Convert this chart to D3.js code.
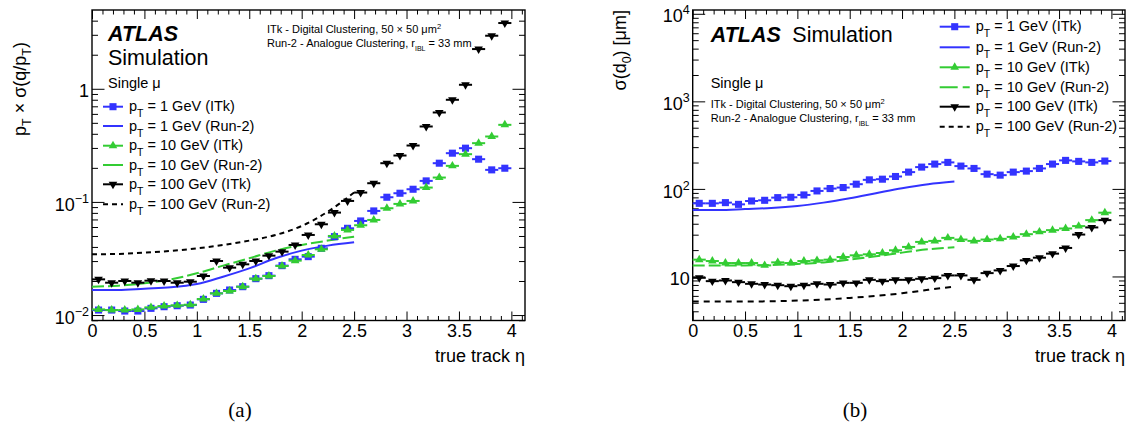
<!DOCTYPE html>
<html>
<head>
<meta charset="utf-8">
<script src="https://cdn.jsdelivr.net/npm/d3@7"></script>
<style>
  body { margin: 0; background: #fff; }
  svg { font-family: "Liberation Sans", Arial, sans-serif; }
</style>
</head>
<body>
<script>
// bin centres (width 0.125) of the ITk histograms
const etaBins = [0.0625, 0.1875, 0.3125, 0.4375, 0.5625, 0.6875, 0.8125, 0.9375,
                 1.0625, 1.1875, 1.3125, 1.4375, 1.5625, 1.6875, 1.8125, 1.9375,
                 2.0625, 2.1875, 2.3125, 2.4375, 2.5625, 2.6875, 2.8125, 2.9375,
                 3.0625, 3.1875, 3.3125, 3.4375, 3.5625, 3.6875, 3.8125, 3.9375];
// sample points of the Run-2 curves
const run2Eta = [0, 0.25, 0.5, 0.75, 1.0, 1.25, 1.5, 1.75, 2.0, 2.25, 2.5];

// (a) pT x sigma(q/pT)
const qpBlueITk  = [0.01107, 0.01107, 0.01085, 0.01085, 0.01146, 0.01185, 0.01209, 0.01226,
                    0.01376, 0.01555, 0.01664, 0.01781, 0.02097, 0.02229, 0.02733, 0.03109,
                    0.03283, 0.0389, 0.04933, 0.05845, 0.0679, 0.08325, 0.110, 0.1193,
                    0.1294, 0.1534, 0.2199, 0.2696, 0.2985, 0.2386, 0.192, 0.1985];
const qpGreenITk = [0.01122, 0.01107, 0.01107, 0.01122, 0.01169, 0.01201, 0.01218, 0.01234,
                    0.01385, 0.01555, 0.01631, 0.01781, 0.02097, 0.02214, 0.02714, 0.03026,
                    0.03396, 0.03812, 0.05001, 0.05652, 0.06217, 0.0693, 0.0879, 0.096,
                    0.102, 0.1339, 0.1642, 0.2083, 0.2642, 0.3305, 0.3786, 0.4801];
const qpBlackITk = [0.02068, 0.01932, 0.02, 0.01932, 0.02013, 0.02, 0.01932, 0.01972,
                    0.02214, 0.03005, 0.02624, 0.02808, 0.03005, 0.0335, 0.03635, 0.04164,
                    0.05105, 0.06345, 0.08048, 0.102, 0.121, 0.1463, 0.2199, 0.2571,
                    0.3151, 0.4642, 0.6174, 0.7993, 1.0849, 2.244, 2.944, 3.812];
const qpBlueRun2  = [0.01664, 0.01664, 0.0171, 0.01757, 0.0188, 0.02184, 0.02588, 0.03173, 0.0371, 0.04108, 0.04396];
const qpGreenRun2 = [0.01781, 0.01818, 0.01906, 0.02068, 0.02337, 0.02733, 0.03173, 0.0371, 0.04164, 0.0455, 0.04933];
const qpBlackRun2 = [0.03443, 0.0347, 0.0356, 0.03684, 0.0389, 0.0416, 0.0455, 0.051, 0.0613, 0.0821, 0.121];

// (b) sigma(d0) [um]
const d0BlueITk  = [68.4, 68.4, 69.7, 66.6, 72.8, 74.1, 79.5, 80.2, 85.3, 94.8, 100.9, 103.6,
                    113.2, 126.9, 129.1, 138.6, 155.5, 177.4, 192.1, 200.8, 182.2, 171.3, 147.4, 143.6,
                    155.5, 159.7, 171.3, 192.1, 211.7, 206.2, 200.8, 208];
const d0GreenITk = [15.55, 15.0, 14.23, 14.23, 14.23, 13.38, 14.48, 14.23, 15.0, 15.27, 15.55, 16.68,
                    17.43, 17.9, 18.54, 19.9, 21.74, 24.8, 25.47, 27.58, 26.4, 25.47, 26.4, 26.9,
                    28.3, 30.4, 32.3, 33.8, 35.3, 37.6, 44.0, 53.5];
const d0BlackITk = [9.65, 8.84, 8.99, 8.61, 8.24, 8.09, 7.95, 7.74, 7.95, 8.24, 8.09, 8.45,
                    8.45, 9.15, 8.84, 9.15, 9.15, 9.40, 9.57, 10.27, 10.27, 9.15, 10.92, 11.72,
                    13.15, 15.27, 16.39, 18.22, 21.17, 30.1, 36.3, 44.0];
const d0BlueRun2  = [57.4, 57.4, 58.9, 60.5, 63.8, 69.7, 78.1, 89.2, 101.8, 113.2, 121.4];
const d0GreenRun2 = [13.38, 13.38, 13.38, 13.5, 13.86, 14.48, 15.55, 16.98, 18.71, 20.43, 21.54];
const d0BlackRun2 = [5.16, 5.16, 5.16, 5.21, 5.30, 5.44, 5.69, 5.99, 6.43, 7.03, 7.67];

const xTicks = [0, 0.5, 1, 1.5, 2, 2.5, 3, 3.5, 4];
const qpYTicks = [0.01, 0.1, 1];
const d0YTicks = [10, 100, 1000, 10000];
const legendLabels = ["1 GeV (ITk)", "1 GeV (Run-2)", "10 GeV (ITk)", "10 GeV (Run-2)", "100 GeV (ITk)", "100 GeV (Run-2)"];

const blue = "#3333ff", green = "#33cc33", black = "#000";
const binHalf = 0.0625;

const svg = d3.select("body").append("svg").attr("width", 1130).attr("height", 430);

// text with sub/superscripts: parts = [[string, "sub"|"sup"|undefined], ...]
function rich(text, parts, small, shift) {
  let off = 0;
  parts.forEach(([s, m]) => {
    const t = text.append("tspan").text(s);
    const want = m === "sub" ? shift : m === "sup" ? -shift : 0;
    if (want !== off) { t.attr("dy", want - off); off = want; }
    if (m) t.attr("font-size", small);
  });
  return text;
}

function powLabel(d) {
  const e = Math.round(Math.log10(d));
  if (e === 0) return [["1"]];
  if (e === 1) return [["10"]];
  return [["10"], [String(e).replace("-", "\u2212"), "sup"]];
}

function marker(sel, type, color) {
  if (type === "square") {
    sel.append("path").attr("d", d3.symbol(d3.symbolSquare, 50)).attr("fill", color);
  } else {
    sel.append("path").attr("d", d3.symbol(d3.symbolTriangle, 32))
      .attr("transform", type === "triDown" ? "rotate(180)" : null)
      .attr("fill", color);
  }
}

function drawPanel(o) {
  const g = svg.append("g").attr("transform", `translate(${o.left},${o.top})`);
  const x = d3.scaleLinear().domain([0, 4.13]).range([0, o.w]);
  const y = d3.scaleLog().domain(o.yDomain).range([o.h, 0]);

  const isMajorX = d => Math.abs(d * 2 - Math.round(d * 2)) < 1e-6;
  const xMinor = x.ticks(40).filter(d => !isMajorX(d));
  const yMinor = y.ticks().filter(d => Math.abs(Math.log10(d) - Math.round(Math.log10(d))) > 1e-6);

  const axisG = g.append("g").attr("stroke-width", 1);
  // bottom
  axisG.append("g").attr("transform", `translate(0,${o.h})`)
    .call(d3.axisBottom(x).tickValues(xTicks).tickSize(-9).tickPadding(4).tickFormat(d3.format("~g")))
    .call(a => a.selectAll("text").attr("font-size", 18).attr("font-family", "Liberation Sans").attr("fill", "#000"));
  axisG.append("g").attr("transform", `translate(0,${o.h})`)
    .call(d3.axisBottom(x).tickValues(xMinor).tickSize(-4.5).tickFormat(""));
  // top
  axisG.append("g").call(d3.axisTop(x).tickValues(xTicks).tickSize(-9).tickFormat(""));
  axisG.append("g").call(d3.axisTop(x).tickValues(xMinor).tickSize(-4.5).tickFormat(""));
  // left
  axisG.append("g")
    .call(d3.axisLeft(y).tickValues(o.yTicks).tickSize(-12.5).tickPadding(3).tickFormat(""))
    .call(a => a.selectAll(".tick").append("text")
      .attr("x", -3).attr("dy", "0.45em").attr("text-anchor", "end")
      .attr("font-size", 18).attr("fill", "#000")
      .each(function (d) { rich(d3.select(this), powLabel(d), 12.5, 8); }));
  axisG.append("g").call(d3.axisLeft(y).tickValues(yMinor).tickSize(-6).tickFormat(""));
  // right
  axisG.append("g").attr("transform", `translate(${o.w},0)`)
    .call(d3.axisRight(y).tickValues(o.yTicks).tickSize(-12.5).tickFormat(""));
  axisG.append("g").attr("transform", `translate(${o.w},0)`)
    .call(d3.axisRight(y).tickValues(yMinor).tickSize(-6).tickFormat(""));
  axisG.selectAll(".domain").remove();
  axisG.selectAll(".tick line").attr("stroke", "#000");

  g.append("rect").attr("width", o.w).attr("height", o.h)
    .attr("fill", "none").attr("stroke", "#000").attr("stroke-width", 1.4);

  // Run-2 curves
  const line = d3.line().x((d, i) => x(run2Eta[i])).y(d => y(d)).curve(d3.curveMonotoneX);
  o.run2.forEach(s => {
    g.append("path").datum(s.values).attr("d", line)
      .attr("fill", "none").attr("stroke", s.color).attr("stroke-width", 2)
      .attr("stroke-dasharray", s.dash);
  });

  // ITk histograms: bin-width bar + marker
  o.itk.forEach(s => {
    const pts = g.append("g").selectAll("g").data(s.values).join("g")
      .attr("transform", (d, i) => `translate(${x(etaBins[i])},${y(d)})`);
    pts.append("line")
      .attr("x1", (d, i) => x(etaBins[i] - binHalf) - x(etaBins[i]))
      .attr("x2", (d, i) => x(etaBins[i] + binHalf) - x(etaBins[i]))
      .attr("stroke", s.color).attr("stroke-width", 2);
    pts.each(function () { marker(d3.select(this), s.marker, s.color); });
  });

  // axis titles
  g.append("text").attr("x", o.w).attr("y", o.h + 41).attr("text-anchor", "end")
    .attr("font-size", 18).text("true track \u03b7");
  const yt = g.append("text").attr("text-anchor", "end").attr("font-size", 18)
    .attr("transform", `translate(${o.yTitle[0]},${o.yTitle[1]}) rotate(-90)`);
  rich(yt, o.yTitleParts, 12.5, 5);

  // legend
  const styles = [
    { color: blue, marker: "square" }, { color: blue },
    { color: green, marker: "triUp" }, { color: green, dash: o.legendGreenDash },
    { color: black, marker: "triDown" }, { color: black, dash: "5,4" }
  ];
  const lg = g.append("g").attr("transform", `translate(${o.legend[0]},0)`);
  legendLabels.forEach((lab, i) => {
    const row = lg.append("g").attr("transform", `translate(0,${o.legendRows[i]})`);
    row.append("line").attr("x1", 0).attr("x2", o.legendLen)
      .attr("stroke", styles[i].color).attr("stroke-width", 2)
      .attr("stroke-dasharray", styles[i].dash || null);
    if (styles[i].marker) {
      const m = row.append("g").attr("transform", `translate(${o.legendLen / 2},0)`);
      marker(m, styles[i].marker, styles[i].color);
    }
    const t = row.append("text").attr("x", o.legendLen + 6).attr("y", 4.5).attr("font-size", 14.5);
    rich(t, [["p"], ["T", "sub"], [" = " + lab]], 10.5, 6);
  });
  return g;
}

// (a)
const ga = drawPanel({
  left: 92, top: 10, w: 433, h: 310.5,
  yDomain: [0.00895, 4.97], yTicks: qpYTicks,
  itk: [
    { values: qpBlueITk, color: blue, marker: "square" },
    { values: qpGreenITk, color: green, marker: "triUp" },
    { values: qpBlackITk, color: black, marker: "triDown" }
  ],
  run2: [
    { values: qpBlueRun2, color: blue },
    { values: qpGreenRun2, color: green, dash: "12,4" },
    { values: qpBlackRun2, color: black, dash: "5,4" }
  ],
  yTitle: [-66, 32],
  yTitleParts: [["p"], ["T", "sub"], [" \u00d7 \u03c3(q/p"], ["T", "sub"], [")"]],
  legend: [11], legendLen: 20, legendGreenDash: null,
  legendRows: [96.7, 116, 135.7, 155, 174.3, 194.3]
});
ga.append("text").attr("x", 16).attr("y", 31).attr("font-size", 21.5)
  .attr("font-weight", "bold").attr("font-style", "italic").text("ATLAS");
ga.append("text").attr("x", 16).attr("y", 55).attr("font-size", 21.5).text("Simulation");
ga.append("text").attr("x", 16).attr("y", 78).attr("font-size", 14.5).text("Single \u03bc");
rich(ga.append("text").attr("x", 175).attr("y", 23).attr("font-size", 11),
  [["ITk - Digital Clustering, 50 \u00d7 50 \u03bcm"], ["2", "sup"]], 7.5, 4);
rich(ga.append("text").attr("x", 175).attr("y", 36.5).attr("font-size", 11),
  [["Run-2 - Analogue Clustering, r"], ["IBL", "sub"], [" = 33 mm"]], 7, 4);

// (b)
const gb = drawPanel({
  left: 692.7, top: 10, w: 432.3, h: 310.5,
  yDomain: [3.14, 11050], yTicks: d0YTicks,
  itk: [
    { values: d0BlueITk, color: blue, marker: "square" },
    { values: d0GreenITk, color: green, marker: "triUp" },
    { values: d0BlackITk, color: black, marker: "triDown" }
  ],
  run2: [
    { values: d0BlueRun2, color: blue },
    { values: d0GreenRun2, color: green, dash: "12,4" },
    { values: d0BlackRun2, color: black, dash: "6,5" }
  ],
  yTitle: [-67, 0],
  yTitleParts: [["\u03c3(d"], ["0", "sub"], [") [\u03bcm]"]],
  legend: [247], legendLen: 30, legendGreenDash: "18,5,5,0",
  legendRows: [16.7, 37.3, 57.3, 77.3, 96.7, 116.7]
});
gb.append("text").attr("x", 18).attr("y", 32).attr("font-size", 21.5)
  .attr("font-weight", "bold").attr("font-style", "italic").text("ATLAS");
gb.append("text").attr("x", 99.6).attr("y", 32).attr("font-size", 21.5).text("Simulation");
gb.append("text").attr("x", 18).attr("y", 78).attr("font-size", 14.5).text("Single \u03bc");
rich(gb.append("text").attr("x", 18).attr("y", 98).attr("font-size", 11),
  [["ITk - Digital Clustering, 50 \u00d7 50 \u03bcm"], ["2", "sup"]], 7.5, 4);
rich(gb.append("text").attr("x", 18).attr("y", 112).attr("font-size", 11),
  [["Run-2 - Analogue Clustering, r"], ["IBL", "sub"], [" = 33 mm"]], 7, 4);

// captions
svg.append("text").attr("x", 240).attr("y", 417).attr("text-anchor", "middle")
  .attr("font-family", "Liberation Serif").attr("font-size", 21).text("(a)");
svg.append("text").attr("x", 855).attr("y", 417).attr("text-anchor", "middle")
  .attr("font-family", "Liberation Serif").attr("font-size", 21).text("(b)");
</script>
</body>
</html>
